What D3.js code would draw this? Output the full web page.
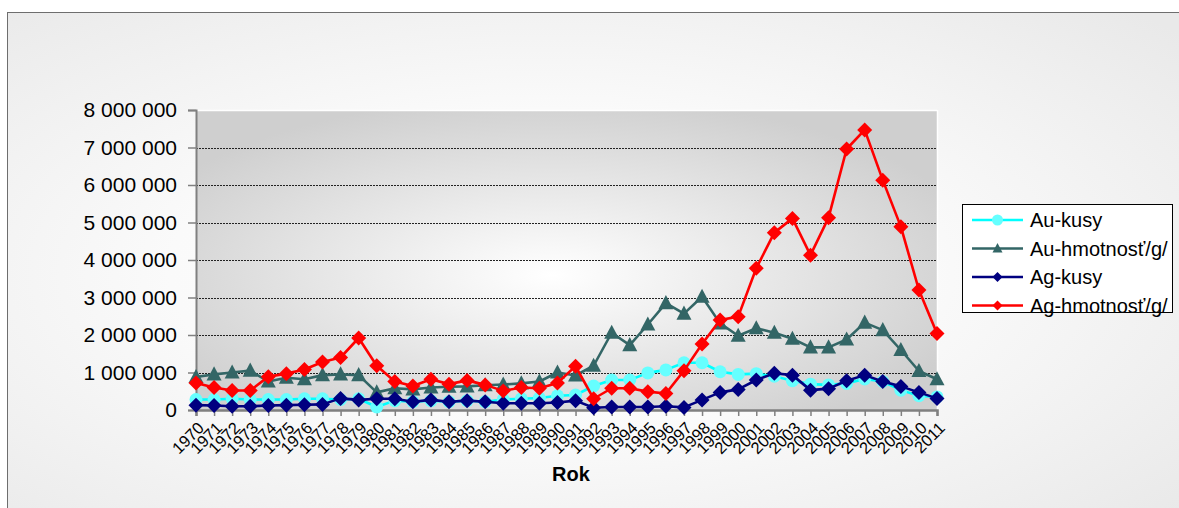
<!DOCTYPE html>
<html><head><meta charset="utf-8">
<script src="https://cdn.jsdelivr.net/npm/d3@7"></script>
<style>html,body{margin:0;padding:0;background:#fff;overflow:hidden}svg{display:block}text{font-family:"Liberation Sans",Arial,sans-serif;fill:#000}</style>
</head><body>
<svg id="chart" width="1179" height="508"></svg>
<script>
const years = d3.range(1970, 2012);
const yTicks = [0,1000000,2000000,3000000,4000000,5000000,6000000,7000000,8000000];
const seriesNames = ["Au-kusy","Au-hmotnosť/g/","Ag-kusy","Ag-hmotnosť/g/"];
const auKusy = [280000,280000,300000,280000,280000,280000,300000,300000,280000,300000,
  80000,250000,220000,250000,220000,250000,220000,280000,300000,320000,
  380000,400000,640000,800000,800000,990000,1070000,1260000,1260000,1020000,
  950000,970000,900000,780000,690000,670000,710000,830000,760000,530000,380000,350000];
const auHm = [880000,950000,1000000,1050000,760000,860000,820000,930000,950000,930000,
  470000,580000,550000,600000,620000,630000,660000,680000,710000,760000,
  1000000,920000,1180000,2060000,1730000,2280000,2850000,2570000,3020000,2310000,
  1980000,2180000,2060000,1900000,1670000,1670000,1880000,2330000,2130000,1600000,1040000,820000];
const agKusy = [130000,120000,100000,100000,120000,130000,140000,150000,310000,270000,
  300000,300000,220000,270000,220000,250000,220000,180000,180000,180000,
  200000,250000,60000,80000,80000,80000,100000,70000,270000,470000,
  550000,800000,980000,930000,530000,570000,780000,930000,760000,630000,470000,310000];
const agHm = [720000,600000,520000,520000,890000,970000,1080000,1280000,1400000,1920000,
  1180000,760000,640000,820000,690000,790000,670000,510000,600000,580000,
  720000,1170000,300000,580000,580000,490000,440000,1050000,1760000,2400000,
  2490000,3780000,4730000,5110000,4130000,5130000,6960000,7470000,6130000,4890000,3200000,2040000];
const seriesData = [auKusy, auHm, agKusy, agHm];
const colors = ["#00ffff","#336666","#000080","#ff0000"];
const markerFill = ["#66ffff","#336666","#000080","#ff0000"];
const markerType = ["circle","triangle","diamond","diamond"];

const svg = d3.select("#chart");
const defs = svg.append("defs");
const bg = defs.append("radialGradient").attr("id","bgGrad").attr("cx","0.45").attr("cy","0.5").attr("r","0.7");
bg.append("stop").attr("offset","0").attr("stop-color","#ffffff");
bg.append("stop").attr("offset","0.45").attr("stop-color","#fafafa");
bg.append("stop").attr("offset","1").attr("stop-color","#e9e9e9");
const pg = defs.append("radialGradient").attr("id","plotGrad").attr("cx","0.48").attr("cy","0.55").attr("r","0.6");
pg.append("stop").attr("offset","0").attr("stop-color","#ffffff");
pg.append("stop").attr("offset","1").attr("stop-color","#cfcfcf");

svg.append("rect").attr("x",7.5).attr("y",12.5).attr("width",1200).attr("height",520)
  .attr("fill","url(#bgGrad)").attr("stroke","#6e6e6e").attr("stroke-width",1);

const pLeft = 196, pRight = 937, pTop = 110, pBottom = 410;
const x = d3.scalePoint().domain(years).range([pLeft, pRight]);
const y = d3.scaleLinear().domain([0, 8000000]).range([pBottom, pTop]);

svg.append("rect").attr("x",pLeft).attr("y",pTop).attr("width",pRight-pLeft).attr("height",pBottom-pTop)
  .attr("fill","url(#plotGrad)");
svg.append("line").attr("x1",pLeft).attr("x2",pRight).attr("y1",pTop+0.5).attr("y2",pTop+0.5).attr("stroke","#fff").attr("stroke-width",1.5);
svg.append("line").attr("x1",pRight+0.5).attr("x2",pRight+0.5).attr("y1",pTop).attr("y2",pBottom).attr("stroke","#fff").attr("stroke-width",1.5);

svg.append("g").selectAll("line").data(yTicks.filter(d=>d>0 && d<8000000)).join("line")
  .attr("x1",pLeft).attr("x2",pRight).attr("y1",d=>Math.round(y(d))+0.5).attr("y2",d=>Math.round(y(d))+0.5)
  .attr("stroke","#222").attr("stroke-width",1).attr("stroke-dasharray","2,1");

const fmt = v => d3.format(",")(v).replace(/,/g," ");
const yAxis = d3.axisLeft(y).tickValues(yTicks).tickFormat(fmt).tickSize(8).tickPadding(11);
const ga = svg.append("g").attr("transform",`translate(${pLeft},0)`).call(yAxis);
ga.select(".domain").attr("stroke","#808080").attr("stroke-width",2);
ga.selectAll(".tick line").attr("stroke","#808080").attr("stroke-width",1.5);
ga.selectAll(".tick text").style("font-size","21px").style("font-family","Liberation Sans, Arial, sans-serif").attr("fill","#000");

const xAxis = d3.axisBottom(x).tickSize(6).tickFormat("");
const gx = svg.append("g").attr("transform",`translate(0,${pBottom})`).call(xAxis);
gx.select(".domain").attr("stroke","#808080").attr("stroke-width",2.5);
gx.selectAll(".tick line").attr("stroke","#808080").attr("stroke-width",1.5);

svg.append("g").selectAll("text").data(years).join("text")
  .attr("transform",d=>`translate(${x(d)+5},${pBottom+15}) rotate(-45)`)
  .attr("text-anchor","end").attr("dy","0.35em").style("font-size","16.5px").text(d=>d);

svg.append("text").attr("x",571).attr("y",481).attr("text-anchor","middle")
  .style("font-size","20px").style("font-weight","bold").text("Rok");

function drawMarker(g, type, cx, cy, size, fill){
  if(type==="circle"){
    g.append("circle").attr("cx",cx).attr("cy",cy).attr("r",size/2).attr("fill",fill);
  } else if(type==="triangle"){
    const h=size*0.9, w=size;
    g.append("path").attr("d",`M${cx},${cy-h*0.6}L${cx+w/2},${cy+h*0.45}L${cx-w/2},${cy+h*0.45}Z`).attr("fill",fill);
  } else {
    const s=size/2;
    g.append("path").attr("d",`M${cx},${cy-s}L${cx+s},${cy}L${cx},${cy+s}L${cx-s},${cy}Z`).attr("fill",fill);
  }
}

const line = d3.line().x((d,i)=>x(years[i])).y(d=>y(d));
seriesData.forEach((vals, si) => {
  const g = svg.append("g");
  g.append("path").datum(vals).attr("d",line).attr("fill","none").attr("stroke",colors[si]).attr("stroke-width",2.6).attr("stroke-linejoin","round");
  vals.forEach((v,i)=>drawMarker(g, markerType[si], x(years[i]), y(v), si===0?13:15, markerFill[si]));
});

const lg = svg.append("g");
lg.append("rect").attr("x",962.5).attr("y",204.5).attr("width",210).attr("height",108).attr("fill","#fff").attr("stroke","#000").attr("stroke-width",1);
seriesNames.forEach((name, i) => {
  const ly = 220 + i*28.5;
  lg.append("line").attr("x1",972).attr("x2",1023).attr("y1",ly).attr("y2",ly).attr("stroke",colors[i]).attr("stroke-width",2.6);
  drawMarker(lg, markerType[i], 997.5, ly, i===0?11:10, markerFill[i]);
  lg.append("text").attr("x",1030).attr("y",ly).attr("dy","0.35em").style("font-size","20px").text(name);
});
</script>
</body></html>
